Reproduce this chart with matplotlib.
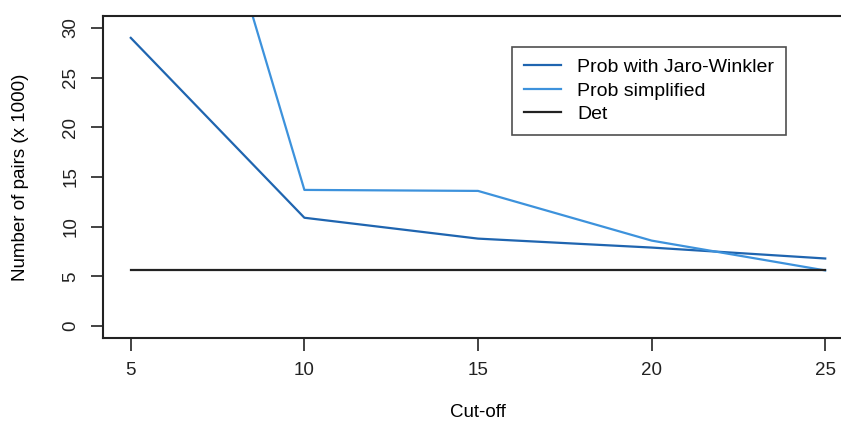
import matplotlib
matplotlib.use('Agg')
import matplotlib.pyplot as plt

plt.rcParams['font.family'] = ['Liberation Sans', 'DejaVu Sans']

cutoff = [5, 10, 15, 20, 25]
prob_jw = [29.0, 10.9, 8.8, 7.9, 6.8]
prob_simple = [72.4, 13.7, 13.6, 8.6, 5.6]
det = [5.6, 5.6, 5.6, 5.6, 5.6]
yticks = [0, 5, 10, 15, 20, 25, 30]

fig = plt.figure(figsize=(8.41, 4.28), dpi=100)
ax = fig.add_axes([103 / 841, 90 / 428, 750 / 841, 322 / 428])

ax.plot(cutoff, prob_jw, color='#1f65b0', lw=1.6, label='Prob with Jaro-Winkler')
ax.plot(cutoff, prob_simple, color='#3d92dc', lw=1.6, label='Prob simplified')
ax.plot(cutoff, det, color='#222222', lw=1.6, label='Det')

ax.set_xlim(4.2, 25.8)
ax.set_ylim(-1.2, 31.2)
ax.set_xticks(cutoff)
ax.set_yticks(yticks)
ax.set_yticklabels([str(v) for v in yticks], rotation=90, va='center')
ax.tick_params(direction='out', length=9, width=1.2, labelsize=13.5, pad=8, colors='#222222')
ax.spines['right'].set_visible(False)
for s in ax.spines.values():
    s.set_linewidth(1.5)
    s.set_color('#222222')

ax.set_xlabel('Cut-off', fontsize=13.5, labelpad=18)
ax.set_ylabel('Number of pairs (x 1000)', fontsize=13.5, labelpad=24)

leg = ax.legend(loc='upper left', bbox_to_anchor=(409 / 750, 1 - 31 / 322),
                fontsize=14, frameon=True, fancybox=False, edgecolor='#222222',
                handlelength=1.9, handletextpad=0.85, labelspacing=0.3,
                borderpad=0.6, borderaxespad=0)
leg.get_frame().set_linewidth(1.2)

fig.savefig('out.png', dpi=100)
